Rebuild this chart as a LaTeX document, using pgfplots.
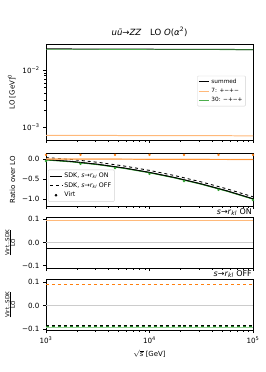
\documentclass[border=0pt]{standalone}
\usepackage{pgfplots}
\pgfplotsset{compat=1.18}
\usepackage{fontspec}
\setmainfont{DejaVu Sans}
\definecolor{taborange}{HTML}{FF7F0E}
\definecolor{tabgreen}{HTML}{2CA02C}
\newcommand{\srkl}{\textit{s}→\textit{r}\textsubscript{\textit{kl}}}
\newcommand{\vsl}{\scalebox{0.8}{$\frac{\mbox{Virt}-\mbox{SDK}}{\mbox{LO}}$}}
\begin{document}
\begin{tikzpicture}
\useasboundingbox (0bp,0bp) rectangle (266bp,-372bp);
\pgfplotsset{
  every axis/.append style={
    scale only axis, width=207bp, xmode=log, xmin=1000, xmax=100000,
    tick align=outside, font=\fontsize{7.2}{8}\selectfont,
    major tick length=3bp, minor tick length=1.8bp,
    every tick/.style={black, line width=0.4pt},
    axis line style={line width=0.5pt},
    xtick={1000,10000,100000},
    xtick pos=bottom, ytick pos=left,
    clip mode=individual,
    ylabel style={font=\fontsize{7}{8}\selectfont},
    xlabel style={font=\fontsize{7}{8}\selectfont},
  },
}
% Panel 1
\begin{axis}[at={(46bp,-44bp)}, anchor=north west, height=96bp,
  ymode=log, ymin=0.00059, ymax=0.0288,
  ytick={0.001,0.01}, yticklabels={10\textsuperscript{−3},10\textsuperscript{−2}},
  xticklabels={},
  ylabel={LO [GeV]\textsuperscript{0}},
  legend style={at={(rel axis cs:0.965,0.51)}, anchor=east, draw=gray!35, rounded corners=1bp,
    font=\fontsize{5.8}{6}\selectfont, inner sep=1bp, row sep=-0.6bp},
  legend cell align=left,
  legend image code/.code={\draw[#1] (0bp,0bp) -- (10bp,0bp);},
]
\addplot[black, line width=1pt] coordinates {(1000,0.0236) (10000,0.0233) (100000,0.0230)};
\addlegendentry{summed}
\addplot[taborange!55, line width=1pt] coordinates {(1000,0.000715) (10000,0.000705) (100000,0.000700)};
\addlegendentry{7: +−+−}
\addplot[tabgreen!85, line width=0.6pt] coordinates {(1000,0.0232) (10000,0.0230) (100000,0.0228)};
\addlegendentry{30: −+−+}
\end{axis}
% title
\node[font=\fontsize{8.6}{9}\selectfont] at (149.5bp,-32bp) {\textit{uū}→\textit{ZZ}\quad LO \textit{O}(\textit{α}\textsuperscript{2})};
% Panel 2
\begin{axis}[at={(46bp,-153bp)}, anchor=north west, height=53bp,
  ymin=-1.175, ymax=0.15,
  ytick={-1,-0.5,0}, yticklabels={−1.0,−0.5,0.0},
  xticklabels={},
  ylabel={Ratio over LO},
  legend style={at={(rel axis cs:0.01,0.08)}, anchor=south west, draw=gray!35, rounded corners=1bp,
    font=\fontsize{6.3}{7}\selectfont, inner sep=1.2bp, row sep=-0.6bp},
  legend cell align=left,
]
\addplot[black, line width=0.9pt, legend image code/.code={\draw[black, line width=0.9pt] (0bp,0bp) -- (12bp,0bp);}] coordinates {(1000,-0.015) (1778,-0.063) (3162,-0.1325) (5623,-0.2231) (10000,-0.335) (17783,-0.4681) (31623,-0.6225) (56234,-0.7981) (100000,-0.995)};
\addlegendentry{SDK, \srkl{} ON}
\addplot[black, dashed, line width=0.9pt, legend image code/.code={\draw[black, dashed, line width=0.9pt] (0bp,0bp) -- (12bp,0bp);}] coordinates {(1000,0.035) (1778,-0.0131) (3162,-0.0825) (5623,-0.1731) (10000,-0.285) (17783,-0.4181) (31623,-0.5725) (56234,-0.7481) (100000,-0.945)};
\addlegendentry{SDK, \srkl{} OFF}
\addplot[only marks, mark=*, mark size=1pt, black, legend image code/.code={\fill[black] (6bp,0bp) circle (1.1bp);}] coordinates {(1000,-2)};
\addlegendentry{Virt}
\addplot[tabgreen, line width=0.9pt, forget plot] coordinates {(1000,-0.025) (1778,-0.0731) (3162,-0.1425) (5623,-0.2331) (10000,-0.345) (17783,-0.4781) (31623,-0.6325) (56234,-0.8081) (100000,-1.005)};
\addplot[black, line width=0.8pt, forget plot] coordinates {(1000,-0.015) (1778,-0.063) (3162,-0.1325) (5623,-0.2231) (10000,-0.335) (17783,-0.4681) (31623,-0.6225) (56234,-0.7981) (100000,-0.995)};
\addplot[taborange!55, line width=1.2pt, forget plot] coordinates {(1000,0.002) (10000,-0.004) (100000,-0.012)};
\addplot[taborange, line width=0.5pt, forget plot] coordinates {(1000,-0.002) (10000,-0.007) (100000,-0.014)};
\addplot[only marks, mark=*, mark size=1pt, taborange, forget plot] coordinates {(1000,0.105) (2154,0.105) (4642,0.105) (10000,0.105) (21544,0.105) (46416,0.105) (100000,0.105)};
\addplot[only marks, mark=*, mark size=1pt, tabgreen, forget plot] coordinates {(1000,-0.05) (2154,-0.119) (4642,-0.226) (10000,-0.37) (21544,-0.552) (46416,-0.772) (100000,-1.03)};
\end{axis}
% Panel 3
\begin{axis}[at={(46bp,-217bp)}, anchor=north west, height=51bp,
  ymin=-0.11, ymax=0.11,
  ytick={-0.1,0,0.1}, yticklabels={−0.1,0.0,0.1},
  xticklabels={},
  ylabel={\vsl},
]
\addplot[gray!40, line width=0.5pt] coordinates {(1000,0) (100000,0)};
\addplot[taborange!55, line width=1pt] coordinates {(1000,0.095) (100000,0.095)};
\addplot[tabgreen!80!black, line width=1pt] coordinates {(1000,-0.026) (100000,-0.026)};
\addplot[black, line width=0.6pt] coordinates {(1000,-0.025) (100000,-0.025)};
\node[anchor=south east, font=\fontsize{8}{9}\selectfont, inner sep=1bp] at (rel axis cs:1,1) {\srkl{} ON};
\end{axis}
% Panel 4
\begin{axis}[at={(46bp,-279bp)}, anchor=north west, height=51bp,
  ymin=-0.104, ymax=0.114,
  ytick={-0.1,0,0.1}, yticklabels={−0.1,0.0,0.1},
  xticklabels={10\textsuperscript{3},10\textsuperscript{4},10\textsuperscript{5}},
  xlabel={$\sqrt{\mbox{\textit{s}}}$ [GeV]},
  ylabel={\vsl},
]
\addplot[gray!40, line width=0.5pt] coordinates {(1000,0) (100000,0)};
\addplot[taborange, dashed, line width=0.6pt] coordinates {(1000,0.093) (100000,0.093)};
\addplot[tabgreen!50, line width=1pt] coordinates {(1000,-0.092) (100000,-0.092)};
\addplot[tabgreen!80!black, dashed, line width=0.8pt] coordinates {(1000,-0.088) (100000,-0.088)};
\addplot[black, dashed, line width=0.8pt] coordinates {(1000,-0.085) (100000,-0.085)};
\node[anchor=south east, font=\fontsize{8}{9}\selectfont, inner sep=1bp] at (rel axis cs:1,1) {\srkl{} OFF};
\end{axis}
\end{tikzpicture}
\end{document}
